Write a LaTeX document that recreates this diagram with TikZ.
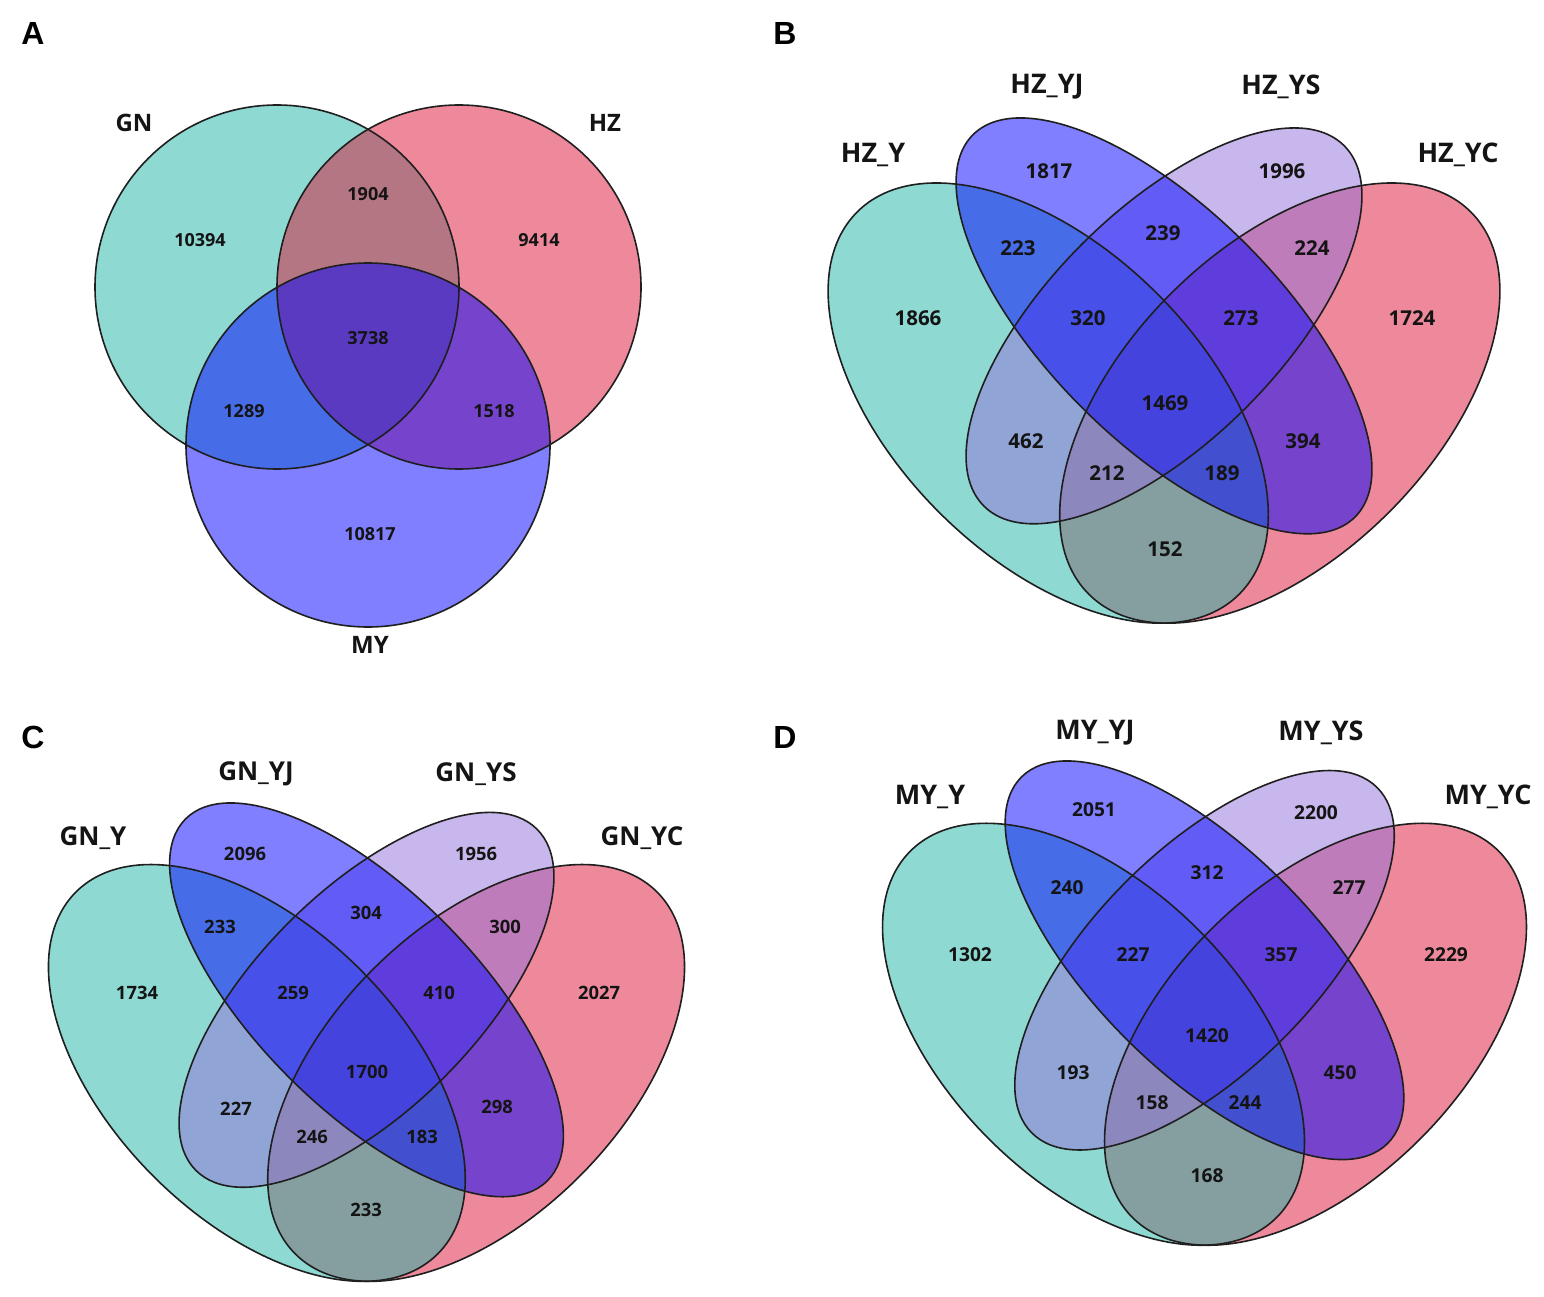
\documentclass[tikz,border=0pt]{standalone}
\usepackage{fontspec}
\setmainfont{Open Sans}
\newfontfamily\panelfont{Liberation Sans}
\definecolor{cteal}{RGB}{31,181,167}
\definecolor{cpink}{RGB}{221,21,55}
\definecolor{cblue}{RGB}{0,0,255}
\definecolor{clav}{RGB}{147,112,219}
\definecolor{ctext}{RGB}{20,20,20}
\tikzset{
  setfill/.style={fill opacity=0.5},
  setline/.style={draw=black!88, line width=1.6pt},
  panel/.style={font=\panelfont\bfseries\fontsize{32}{34}\selectfont, text=black, inner sep=0pt},
  numA/.style={font=\bfseries\fontsize{18}{20}\selectfont, text=ctext, inner sep=0pt},
  numB/.style={font=\bfseries\fontsize{20.5}{22}\selectfont, text=ctext, inner sep=0pt},
  numC/.style={font=\bfseries\fontsize{18.4}{20}\selectfont, text=ctext, inner sep=0pt},
  numD/.style={font=\bfseries\fontsize{19.2}{21}\selectfont, text=ctext, inner sep=0pt},
  labA/.style={font=\bfseries\fontsize{24}{26}\selectfont, text=ctext, inner sep=0pt},
  labB/.style={font=\bfseries\fontsize{27}{29}\selectfont, text=ctext, inner sep=0pt},
  labC/.style={font=\bfseries\fontsize{26}{28}\selectfont, text=ctext, inner sep=0pt},
  labD/.style={font=\bfseries\fontsize{27}{29}\selectfont, text=ctext, inner sep=0pt},
}
% four-set Venn (VennDiagram geometry): #1 = x origin, #2 = top y, #3 = unit (all in px)
\newcommand\quadvenn[3]{%
  \pgfmathsetmacro\qvX{#1}\pgfmathsetmacro\qvT{#2}\pgfmathsetmacro\qvU{#3}%
  \pgfmathsetmacro\qvLx{\qvX+0.35*\qvU}\pgfmathsetmacro\qvRx{\qvX+0.65*\qvU}%
  \pgfmathsetmacro\qvMx{\qvX+0.5*\qvU}%
  \pgfmathsetmacro\qvOy{-(\qvT+0.36926*\qvU)}\pgfmathsetmacro\qvIy{-(\qvT+0.26926*\qvU)}%
  \pgfmathsetmacro\qvA{0.35*\qvU}\pgfmathsetmacro\qvB{0.2*\qvU}%
  \pgfmathsetmacro\qvC{0.15*\qvU}\pgfmathsetmacro\qvD{0.33*\qvU}%
  \fill[cpink,setfill,rotate around={45:(\qvRx,\qvOy)}] (\qvRx,\qvOy) ellipse [x radius=\qvA, y radius=\qvB];
  \fill[cteal,setfill,rotate around={-45:(\qvLx,\qvOy)}] (\qvLx,\qvOy) ellipse [x radius=\qvA, y radius=\qvB];
  \fill[clav,setfill,rotate around={45:(\qvMx,\qvIy)}] (\qvMx,\qvIy) ellipse [x radius=\qvD, y radius=\qvC];
  \fill[cblue,setfill,rotate around={-45:(\qvMx,\qvIy)}] (\qvMx,\qvIy) ellipse [x radius=\qvA, y radius=\qvC];
  \draw[setline,rotate around={45:(\qvRx,\qvOy)}] (\qvRx,\qvOy) ellipse [x radius=\qvA, y radius=\qvB];
  \draw[setline,rotate around={-45:(\qvLx,\qvOy)}] (\qvLx,\qvOy) ellipse [x radius=\qvA, y radius=\qvB];
  \draw[setline,rotate around={45:(\qvMx,\qvIy)}] (\qvMx,\qvIy) ellipse [x radius=\qvD, y radius=\qvC];
  \draw[setline,rotate around={-45:(\qvMx,\qvIy)}] (\qvMx,\qvIy) ellipse [x radius=\qvA, y radius=\qvC];
}
\begin{document}
\begin{tikzpicture}[x=1pt,y=1pt]
\useasboundingbox (0,0) rectangle (1544,-1297);
\fill[white] (0,0) rectangle (1544,-1297);

% ---------------- Panel A ----------------
\node[panel] (pA) at (33,-33) {A};
\fill[cteal,setfill] (277,-287) circle [radius=182];
\fill[cpink,setfill] (459,-287) circle [radius=182];
\fill[cblue,setfill] (368,-445) circle [radius=182];
\draw[setline] (277,-287) circle [radius=182];
\draw[setline] (459,-287) circle [radius=182];
\draw[setline] (368,-445) circle [radius=182];
\node[labA] (lGN) at (134,-123) {GN};
\node[labA] (lHZ) at (605,-123) {HZ};
\node[labA] (lMY) at (370,-645) {MY};
\node[numA] (a1) at (200,-240) {10394};
\node[numA] (a2) at (368,-194) {1904};
\node[numA] (a3) at (539,-240) {9414};
\node[numA] (a4) at (368,-338) {3738};
\node[numA] (a5) at (244,-411) {1289};
\node[numA] (a6) at (494,-411) {1518};
\node[numA] (a7) at (370,-534) {10817};

% ---------------- Panel B ----------------
\node[panel] (pB) at (785,-33) {B};
\quadvenn{778}{118}{772}
\node[labB] (bl1) at (873,-155) {HZ\_Y};
\node[labB] (bl2) at (1047,-87) {HZ\_YJ};
\node[labB] (bl3) at (1281,-87) {HZ\_YS};
\node[labB] (bl4) at (1458,-155) {HZ\_YC};
\node[numB] (b1) at (1049,-171) {1817};
\node[numB] (b2) at (1282,-171) {1996};
\node[numB] (b3) at (918,-318) {1866};
\node[numB] (b4) at (1018,-248) {223};
\node[numB] (b5) at (1163,-233) {239};
\node[numB] (b6) at (1312,-248) {224};
\node[numB] (b7) at (1412,-318) {1724};
\node[numB] (b8) at (1088,-318) {320};
\node[numB] (b9) at (1241,-318) {273};
\node[numB] (b10) at (1165,-403) {1469};
\node[numB] (b11) at (1026,-441) {462};
\node[numB] (b12) at (1303,-441) {394};
\node[numB] (b13) at (1107,-473) {212};
\node[numB] (b14) at (1222,-473) {189};
\node[numB] (b15) at (1165,-549) {152};

% ---------------- Panel C ----------------
\node[panel] (pC) at (33,-737) {C};
\quadvenn{1}{803}{731}
\node[labC] (cl1) at (93,-838) {GN\_Y};
\node[labC] (cl2) at (256,-774) {GN\_YJ};
\node[labC] (cl3) at (476,-774) {GN\_YS};
\node[labC] (cl4) at (642,-838) {GN\_YC};
\node[numC] (c1) at (245,-854) {2096};
\node[numC] (c2) at (476,-854) {1956};
\node[numC] (c3) at (137,-993) {1734};
\node[numC] (c4) at (220,-927) {233};
\node[numC] (c5) at (366,-913) {304};
\node[numC] (c6) at (505,-927) {300};
\node[numC] (c7) at (599,-993) {2027};
\node[numC] (c8) at (293,-993) {259};
\node[numC] (c9) at (439,-993) {410};
\node[numC] (c10) at (367,-1072) {1700};
\node[numC] (c11) at (236,-1109) {227};
\node[numC] (c12) at (497,-1107) {298};
\node[numC] (c13) at (312,-1137) {246};
\node[numC] (c14) at (422,-1137) {183};
\node[numC] (c15) at (366,-1210) {233};

% ---------------- Panel D ----------------
\node[panel] (pD) at (785,-737) {D};
\quadvenn{834.5}{761}{740}
\node[labD] (dl1) at (930,-797) {MY\_Y};
\node[labD] (dl2) at (1095,-733) {MY\_YJ};
\node[labD] (dl3) at (1321,-733) {MY\_YS};
\node[labD] (dl4) at (1488,-797) {MY\_YC};
\node[numD] (d1) at (1094,-810) {2051};
\node[numD] (d2) at (1316,-813) {2200};
\node[numD] (d3) at (970,-955) {1302};
\node[numD] (d4) at (1067,-888) {240};
\node[numD] (d5) at (1207,-873) {312};
\node[numD] (d6) at (1349,-888) {277};
\node[numD] (d7) at (1446,-955) {2229};
\node[numD] (d8) at (1133,-955) {227};
\node[numD] (d9) at (1281,-955) {357};
\node[numD] (d10) at (1207,-1036) {1420};
\node[numD] (d11) at (1073,-1073) {193};
\node[numD] (d12) at (1340,-1073) {450};
\node[numD] (d13) at (1152,-1103) {158};
\node[numD] (d14) at (1245,-1103) {244};
\node[numD] (d15) at (1207,-1176) {168};
\end{tikzpicture}
\end{document}
